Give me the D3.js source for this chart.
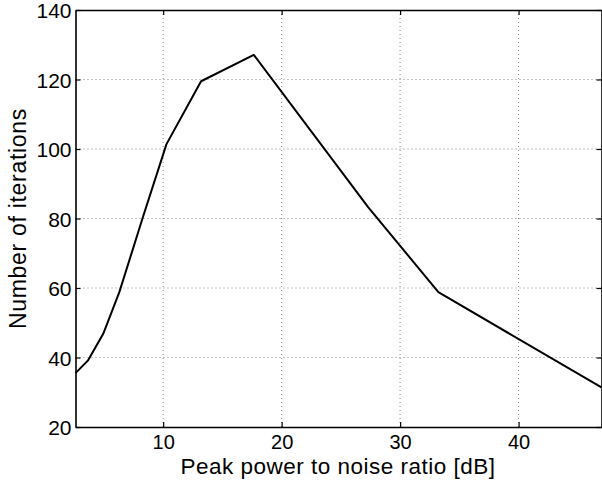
<!DOCTYPE html>
<html><head><meta charset="utf-8">
<script src="https://cdn.jsdelivr.net/npm/d3@7"></script>
<style>body{margin:0;background:#fff}svg{display:block}text{font-family:"Liberation Sans",Arial,Helvetica,sans-serif}</style>
</head><body>
<svg id="c" width="602" height="480"></svg>
<script>
const snr = [2.6, 3.64, 4.94, 6.3, 8.3, 10.28, 13.2, 17.65, 27.3, 33.23, 47.0];
const iterations = [35.5, 39.1, 46.8, 58.8, 80.5, 101.4, 119.5, 127.1, 83.3, 58.8, 31.4];
const xTicks = [10, 20, 30, 40];
const yTicks = [20, 40, 60, 80, 100, 120, 140];
const xLabel = "Peak power to noise ratio [dB]";
const yLabel = "Number of iterations";

const svg = d3.select("#c");
const L = 75.5, R = 601.5, T = 10, B = 427;
const x = d3.scaleLinear().domain([2.6, 47.0]).range([L, R]);
const y = d3.scaleLinear().domain([20, 140]).range([B, T]);

// grid
const g = svg.append("g");
g.selectAll(".gx").data(xTicks).join("line")
  .attr("x1", d => x(d)).attr("x2", d => x(d)).attr("y1", T).attr("y2", B)
  .attr("stroke", "#888").attr("stroke-width", 1).attr("stroke-dasharray", "1,3");
g.selectAll(".gy").data(yTicks.slice(1, -1)).join("line")
  .attr("y1", d => y(d)).attr("y2", d => y(d)).attr("x1", L).attr("x2", R)
  .attr("stroke", "#888").attr("stroke-width", 1).attr("stroke-dasharray", "1,3");

// axes
const ax = svg.append("g").attr("transform", `translate(0,${B})`)
  .call(d3.axisBottom(x).tickValues(xTicks).tickSize(-5).tickPadding(0).tickSizeOuter(0));
const ay = svg.append("g").attr("transform", `translate(${L},0)`)
  .call(d3.axisLeft(y).tickValues(yTicks).tickSize(-5).tickPadding(4).tickSizeOuter(0));
const at = svg.append("g").attr("transform", `translate(0,${T})`)
  .call(d3.axisTop(x).tickValues(xTicks).tickSize(-5).tickFormat("").tickSizeOuter(0));
const ar = svg.append("g").attr("transform", `translate(${R},0)`)
  .call(d3.axisRight(y).tickValues(yTicks).tickSize(-5).tickFormat("").tickSizeOuter(0));
[ax, ay, at, ar].forEach(a => {
  a.select(".domain").attr("stroke", "#000").attr("stroke-width", 1.6);
  a.selectAll(".tick line").attr("stroke", "#000").attr("stroke-width", 1.2);
  a.selectAll(".tick text").attr("fill", "#000").style("font-size", "21px");
});
ay.selectAll(".tick text").attr("dy", "0.36em");
ax.selectAll(".tick text").style("font-size", "20px").attr("y", 22).attr("dy", 0);

// line
svg.append("path").datum(snr.map((d, i) => [d, iterations[i]]))
  .attr("fill", "none").attr("stroke", "#000").attr("stroke-width", 2)
  .attr("stroke-linejoin", "round")
  .attr("d", d3.line().x(d => x(d[0])).y(d => y(d[1])));

// labels
svg.append("text").attr("x", 338).attr("y", 473.5).attr("text-anchor", "middle")
  .style("font-size", "22.5px").style("letter-spacing", "0.5px").text(xLabel);
svg.append("text").attr("transform", `translate(26,${(T + B) / 2}) rotate(-90)`)
  .attr("text-anchor", "middle").style("font-size", "23px").style("letter-spacing", "0.7px").text(yLabel);
</script>
</body></html>
